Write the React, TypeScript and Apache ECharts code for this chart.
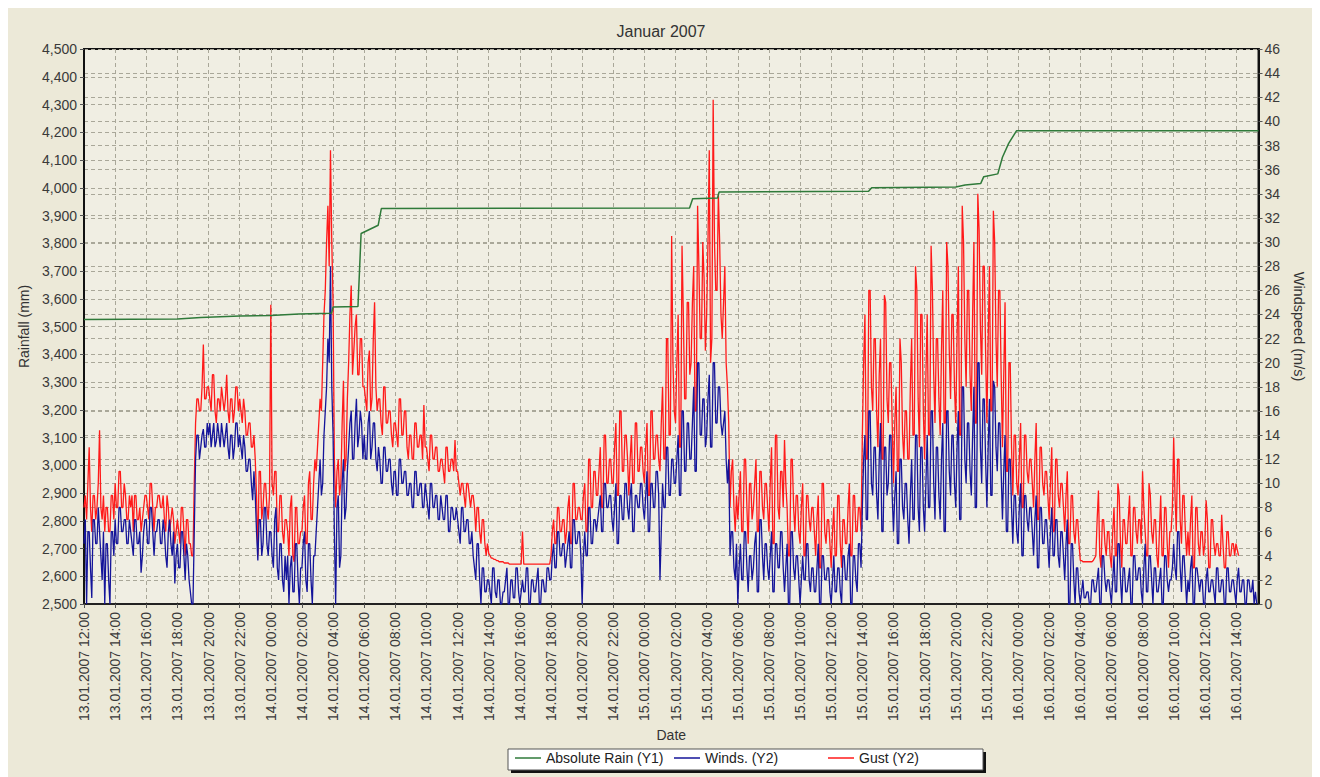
import React, { useEffect, useRef } from "react";
import * as echarts from "echarts";

const TITLE = "Januar 2007";
const X_NAME = "Date";
const Y1_NAME = "Rainfall (mm)";
const Y2_NAME = "Windspeed (m/s)";
const SERIES_NAMES = ["Absolute Rain (Y1)", "Winds. (Y2)", "Gust (Y2)"];

// hours counted from 13.01.2007 00:00
const X_MIN = 12;
const X_MAX = 87.45;
const X_STEP = 2;

// absolute rain (Y1), step-like curve: hour, mm
const RAIN_HOURS = [12, 18, 19.5, 22, 24, 25.8, 27.9, 28.0, 29.6, 29.8, 30.9, 31.1, 50.9, 51.1, 52.7, 52.8, 62.4, 62.6, 68.0, 68.6, 69.6, 69.8, 70.7, 71.0, 71.4, 71.9, 87.45];
const RAIN_MM = [3525, 3527, 3532, 3538, 3540, 3545, 3548, 3570, 3572, 3835, 3865, 3925, 3927, 3960, 3963, 3985, 3987, 4000, 4003, 4010, 4015, 4040, 4050, 4110, 4160, 4205, 4205];

// 5-minute samples starting 13.01.2007 12:00 (m/s), one row per hour
const SAMPLE_START = 12;
const SAMPLES_PER_HOUR = 12;
const WIND = [
  5, 7, 0, 6, 6, 3, 0.5, 7, 7, 5, 5, 8, // 12
  6, 4, 2, 6, 0, 5, 5, 2, 0, 6, 6, 4, // 13
  7, 5, 5, 8, 8, 6, 6, 7, 7, 5, 5, 7, // 14
  6, 5, 4, 7, 7, 5, 5, 6, 2.6, 4, 6, 7, // 15
  7, 5, 5, 8, 8, 6, 4, 6, 6, 7, 7, 5, // 16
  5, 7, 6, 4, 3, 6, 7, 5, 4, 6, 1.7, 4, // 17
  5, 3, 3, 6, 6, 4, 2, 5, 4, 2, 1, 0, // 18
  0, 6, 12, 14, 14, 12, 13, 14, 14.5, 13, 13, 15, // 19
  14, 15, 13, 14, 15, 13, 13.5, 15, 14, 13, 15, 14, // 20
  13, 14, 15, 13, 12, 14, 14, 12, 13, 15, 15, 13, // 21
  14, 13, 12, 14, 13, 11, 11, 12, 12, 10, 8.6, 11, // 22
  9, 6, 3.6, 7, 7, 4, 5, 8, 8, 5, 4, 6, // 23
  6, 4, 3, 7, 8, 3, 2, 5, 5, 2, 1, 4, // 24
  2, 4, 0, 3, 4, 1, 1, 5, 5, 2, 0, 3, // 25
  3, 5, 6, 2, 1, 5, 5, 2, 0, 4, 4, 6, // 26
  8, 10, 12, 9, 10, 14, 16, 18, 22, 20, 28, 18, // 27
  14, 6, 0, 8, 9, 3, 4, 10, 12, 7, 8, 11, // 28
  13, 15, 16, 12, 12, 15, 17, 13, 14, 16, 15, 12, // 29
  14, 12, 12, 15, 16, 12, 13, 15, 15, 12, 11, 13, // 30
  12, 10, 10, 13, 13, 11, 11, 12, 12, 10, 9, 11, // 31
  11, 9, 9, 12, 12, 10, 10, 11, 11, 9, 9, 10, // 32
  10, 8, 8, 11, 11, 9, 9, 10, 10, 8, 8, 10, // 33
  9, 8, 7, 10, 10, 8, 8, 9, 9, 7, 7, 9, // 34
  8, 7, 7, 9, 9, 6, 6, 8, 8, 7, 7, 8, // 35
  7, 6, 5, 8, 8, 6, 6, 7, 7, 5, 5, 6, // 36
  4, 3, 2, 5, 5, 2, 0, 3, 3, 1, 1, 2, // 37
  2, 1, 0, 3, 3, 1, 0.5, 2, 2, 0, 0, 1, // 38
  1, 2, 3, 0, 0, 2, 2, 0.5, 0.5, 3, 3, 1, // 39
  0, 1, 2, 1, 1, 3, 3, 0, 0, 2, 2, 1, // 40
  1, 2, 3, 0, 0, 2, 2, 1, 1, 3, 3, 2, // 41
  2, 4, 5, 3, 3, 6, 6, 4, 4, 5, 5, 3, // 42
  4, 5, 6, 3, 3, 7, 7, 5, 5, 6, 6, 4, // 43
  0, 4, 6, 4, 4, 8, 8, 5, 5, 7, 7, 6, // 44
  7, 8, 9, 6, 6, 10, 10, 8, 8, 9, 9, 7, // 45
  6, 8, 10, 5, 5, 9, 9, 7, 7, 10, 10, 8, // 46
  7, 9, 10, 6, 6, 9, 9, 8, 8, 10, 10, 8, // 47
  7, 9, 11, 6, 6, 10, 10, 8, 8, 11, 11, 9, // 48
  2, 6, 10, 8, 8, 13, 13, 9, 9, 12, 12, 10, // 49
  10, 12, 14, 9, 9, 16, 16, 11, 11, 15, 15, 12, // 50
  12, 15, 18, 11, 11, 20, 20, 14, 14, 17, 17, 13, // 51
  14, 17, 19, 13, 13, 20, 20, 15, 15, 18, 18, 15, // 52
  14, 15, 16, 12, 10, 12, 4, 6, 6, 3, 2, 5, // 53
  0, 3, 5, 2, 2, 6, 6, 3, 1, 4, 4, 2, // 54
  3, 5, 6, 1, 1, 7, 7, 4, 2, 5, 5, 3, // 55
  2, 4, 6, 1, 1, 5, 5, 3, 3, 6, 6, 3, // 56
  1, 3, 5, 0, 0, 6, 6, 3, 2, 4, 4, 2, // 57
  0, 2, 4, 2, 2, 5, 5, 2, 1, 3, 3, 1, // 58
  1, 3, 5, 0, 0, 4, 4, 2, 2, 3, 3, 1, // 59
  0, 2, 4, 1, 1, 3, 3, 1, 0, 4, 4, 2, // 60
  2, 4, 5, 0, 0, 4, 4, 2, 1, 5, 5, 3, // 61
  8, 12, 14, 7, 7, 16, 16, 10, 9, 13, 13, 9, // 62
  7, 12, 15, 6, 6, 13, 13, 9, 10, 14, 14, 9, // 63
  6, 9, 11, 5, 5, 12, 12, 8, 7, 10, 10, 7, // 64
  5, 9, 12, 7, 7, 14, 14, 8, 6, 13, 13, 8, // 65
  6, 10, 14, 8, 8, 16, 16, 10, 7, 13, 13, 9, // 66
  7, 12, 15, 6, 6, 16, 16, 11, 9, 14, 14, 10, // 67
  8, 13, 16, 7, 7, 18, 18, 12, 10, 15, 15, 11, // 68
  9, 14, 18, 8, 8, 20, 20, 13, 10, 17, 17, 12, // 69
  8, 13, 17, 9, 9, 18.5, 18, 13, 11, 15, 15, 11, // 70
  7, 11, 14, 6, 6, 12, 12, 8, 5, 9, 9, 6, // 71
  5, 8, 10, 4, 4, 9, 9, 7, 6, 8, 8, 6, // 72
  4, 7, 9, 3, 3, 8, 8, 5, 5, 7, 7, 5, // 73
  3, 6, 8, 4, 4, 7, 7, 4, 3, 6, 6, 4, // 74
  2, 5, 7, 0, 0, 5, 5, 2, 0, 3, 3, 1, // 75
  0, 1, 2, 0.5, 0.5, 1, 1, 0, 0, 2, 2, 1, // 76
  1, 2, 3, 0, 0, 4, 4, 2, 1, 2, 2, 1, // 77
  0, 2, 4, 1, 1, 5, 5, 2, 0, 3, 3, 1, // 78
  1, 2, 3, 0, 0, 4, 4, 2, 2, 3, 3, 1, // 79
  0, 3, 5, 1, 1, 4, 4, 2, 0, 3, 3, 1, // 80
  1, 2, 3, 0, 0, 4, 4, 2, 1, 2, 2, 3, // 81
  5, 3, 2, 6, 6, 3, 1, 4, 4, 2, 0, 2, // 82
  1, 3, 4, 0, 0, 3, 3, 2, 1, 2, 2, 0, // 83
  0, 2, 3, 1, 1, 2, 2, 1, 0, 3, 3, 1, // 84
  1, 2, 2, 0, 0, 3, 3, 1, 1, 2, 2, 1, // 85
  0, 2, 3, 1, 1, 2, 2, 0, 0, 2, 2, 1, // 86
  1, 2, 0, 1, 0, // 87
];
const GUST = [
  8, 9, 7, 10, 13, 8, 6, 9, 9, 7, 8, 10, // 12
  14.4, 8, 7, 9, 6, 8, 8, 6, 6, 9, 9, 7, // 13
  10, 8, 8, 11, 11, 8, 8, 10, 9, 7, 7, 9, // 14
  8, 9, 6, 9, 9, 7, 7, 8, 6, 7, 8, 9, // 15
  9, 8, 7, 10, 10, 8, 6, 8, 8, 9, 9, 8, // 16
  8, 9, 7, 6, 9, 8, 6, 7, 8, 7, 5, 6, // 17
  7, 6, 5, 8, 8, 6, 4, 7, 7, 5, 5, 4, // 18
  4, 10, 15, 17, 17, 16, 16, 18, 21.5, 17, 17, 18, // 19
  18, 17, 16, 19, 19, 16, 15, 17, 17, 16, 18, 17, // 20
  16, 17, 19, 16, 15, 17, 17, 15, 16, 18, 18, 16, // 21
  17, 16, 15, 17, 16, 14, 14, 15, 15, 13, 13, 14, // 22
  12, 9, 4, 11, 11, 7, 8, 10, 10, 8, 7, 9, // 23
  24.8, 10, 9, 11, 11, 6, 6, 9, 9, 6, 5, 7, // 24
  7, 6, 4, 8, 9, 4, 3.5, 8, 8, 5, 5, 6, // 25
  6, 8, 9, 5, 5, 10, 11, 7, 7, 10, 12, 11, // 26
  13, 15, 17, 16, 20, 24, 26, 30, 33, 28, 37.6, 30, // 27
  25, 12, 8, 11, 12, 9, 10, 15, 18.5, 11, 12, 17, // 28
  20, 24, 26.4, 19, 21, 23, 24, 19, 19, 22, 22, 18, // 29
  18, 17, 16, 20, 21, 16, 17, 22, 25, 18, 16, 17, // 30
  17, 15, 14, 18, 18, 15, 15, 16, 16, 14, 13, 15, // 31
  15, 14, 13, 17, 17, 14, 14, 16, 16, 13, 12, 14, // 32
  14, 12, 12, 15, 15, 13, 13, 14, 14, 12, 16.5, 13, // 33
  13, 12, 11, 14, 14, 12, 12, 13, 13, 11, 11, 12, // 34
  12, 11, 10, 13, 13, 11, 11, 12, 12, 11, 13.6, 11, // 35
  11, 10, 9, 10, 10, 9, 8, 10, 10, 9, 8, 9, // 36
  9, 8, 6, 8, 8, 6, 5, 7, 7, 5, 4, 5, // 37
  4.2, 4, 3.8, 3.8, 3.7, 3.7, 3.6, 3.6, 3.5, 3.5, 3.5, 3.5, // 38
  3.4, 3.4, 3.4, 3.4, 3.3, 3.3, 3.3, 3.3, 3.3, 3.3, 3.3, 3.3, // 39
  3.3, 3.3, 6, 3.3, 3.3, 3.3, 3.3, 3.3, 3.3, 3.3, 3.3, 3.3, // 40
  3.3, 3.3, 3.3, 3.3, 3.3, 3.3, 3.3, 3.3, 3.3, 3.3, 3.3, 3.3, // 41
  4, 6, 7, 5, 5, 8, 8, 6, 6, 7, 7, 5, // 42
  6, 8, 9, 5, 5, 10, 10, 7, 7, 8, 8, 7, // 43
  7, 9, 10, 6, 6, 12, 12, 8, 8, 11, 11, 9, // 44
  9, 11, 13, 8, 8, 14, 14, 10, 10, 12, 12, 10, // 45
  10, 13, 15, 9, 9, 16, 16, 11, 11, 14, 14, 12, // 46
  9, 12, 14, 10, 10, 15, 15, 11, 11, 13, 13, 11, // 47
  10, 13, 15, 9, 9, 16, 16, 12, 12, 14, 14, 12, // 48
  11, 15, 18, 12, 12, 22, 22, 14, 14, 30.5, 20, 16, // 49
  15, 20, 24, 13, 13, 29.7, 24, 17, 17, 25, 25, 19, // 50
  20, 25, 28, 16, 16, 33, 28, 22, 22, 30, 27, 21, // 51
  24, 30, 37.6, 20, 22, 41.8, 30, 26, 26, 34, 30, 24, // 52
  22, 25, 28, 20, 18, 15, 8, 11, 12, 8, 6, 9, // 53
  7, 9, 11, 6, 6, 12, 12, 8, 5, 10, 10, 7, // 54
  8, 10, 12, 6, 6, 11, 11, 8, 7, 10, 10, 8, // 55
  6, 10, 13, 5, 5, 14, 14, 8, 7, 11, 11, 8, // 56
  13.6, 10, 8, 4, 4, 12, 12, 8, 6, 9, 9, 6, // 57
  5, 8, 10, 4, 4, 9, 9, 7, 6, 8, 8, 6, // 58
  4, 7, 9, 3, 3, 10, 10, 6, 5, 7, 7, 5, // 59
  3, 6, 8, 4, 4, 9, 9, 5, 3, 7, 7, 5, // 60
  5, 8, 10, 4, 4, 9, 9, 6, 6, 8, 8, 6, // 61
  14, 20, 24, 12, 12, 26, 26, 18, 16, 22, 22, 16, // 62
  13, 19, 22, 12, 12, 25.6, 25, 17, 15, 20, 20, 15, // 63
  10, 15, 18, 11, 11, 22, 20, 14, 12, 16, 16, 12, // 64
  12, 18, 22, 14, 14, 28, 26, 17, 13, 24, 24, 16, // 65
  12, 19, 24, 14, 14, 29.7, 26, 19, 15, 22, 22, 17, // 66
  14, 21, 26, 15, 15, 30, 28, 21, 17, 24, 24, 18, // 67
  15, 22, 28, 14, 14, 33, 30, 22, 18, 26, 26, 19, // 68
  16, 24, 30, 15, 15, 34, 31, 23, 19, 28, 28, 21, // 69
  15, 22, 28, 16, 16, 32.6, 30, 22, 18, 26, 26, 19, // 70
  13, 19, 25, 11, 11, 20, 20, 13, 9, 14, 14, 10, // 71
  9, 12, 15, 8, 8, 14, 14, 11, 10, 12, 12, 10, // 72
  8, 12, 15, 7, 7, 13, 13, 10, 9, 11, 11, 9, // 73
  7, 10, 13, 6, 6, 12, 12, 9, 8, 10, 10, 8, // 74
  6, 9, 11, 5, 5, 9, 9, 6, 5, 7, 7, 5, // 75
  3.6, 3.6, 3.5, 3.5, 3.5, 3.5, 3.5, 3.5, 3.5, 3.5, 3.6, 3.8, // 76
  4, 7, 9.4, 4, 3, 7, 7, 5, 4, 6, 6, 4, // 77
  3, 6, 8, 4, 4, 10, 9, 5, 3, 7, 7, 5, // 78
  5, 7, 9, 4, 4, 8, 8, 6, 5, 7, 7, 5, // 79
  11, 8, 6, 4, 4, 10, 9, 6, 5, 7, 7, 4, // 80
  3, 6, 9, 4, 4, 8, 8, 5, 3, 6, 6, 8, // 81
  13.8, 9, 6, 12, 12, 7, 5, 9, 9, 6, 4, 6, // 82
  4, 7, 9, 3, 3, 8, 8, 5, 4, 6, 6, 4, // 83
  5, 8.6, 7, 3, 3, 7, 7, 5, 4, 5, 5, 4, // 84
  4, 7.4, 5, 3, 3, 6, 6, 4, 4, 5, 5, 4, // 85
  5, 4.5, 4, // 86
];

const Y1_MIN = 2500;
const Y1_MAX = 4500;
const Y1_STEP = 100;
const Y2_MIN = 0;
const Y2_MAX = 46;
const Y2_STEP = 2;

const COLORS = ["#2f7a3a", "#14149a", "#ff1a1a"];

const toPairs = (vals: number[]) =>
  vals.map((v, i) => [SAMPLE_START + i / SAMPLES_PER_HOUR, v]);

export default function App() {
  const ref = useRef<HTMLDivElement>(null);
  useEffect(() => {
    document.documentElement.style.overflow = "hidden";
    document.body.style.overflow = "hidden";
    const chart = echarts.init(ref.current!, null, { renderer: "svg" });
    const font = "'Liberation Sans', Arial, sans-serif";
    const txt = "#333333";
    const dash = { type: [4, 3] as number[], color: "#a9a799", width: 1 };
    const fmtDate = (h: number) => {
      const d = 13 + Math.floor(h / 24);
      const hh = Math.round(h % 24);
      return `${d}.01.2007 ${String(hh).padStart(2, "0")}:00`;
    };
    const legendBase = {
      top: 743,
      padding: 0,
      icon: "rect",
      itemWidth: 26,
      itemHeight: 1.5,
      selectedMode: false,
      textStyle: { fontFamily: font, fontSize: 14, color: "#222" },
    };
    chart.setOption({
      animation: false,
      backgroundColor: "#ECE9D8",
      title: {
        text: TITLE,
        left: "center",
        top: 10,
        textStyle: { fontFamily: font, fontSize: 16, fontWeight: "normal", color: txt },
      },
      graphic: [
        { type: "rect", z: 0, shape: { x: 503, y: 744, width: 475, height: 21 }, style: { fill: "#111" } },
        { type: "rect", z: 1, shape: { x: 500, y: 741, width: 475, height: 21 }, style: { fill: "#fff", stroke: "#555", lineWidth: 1 } },
      ],
      legend: [
        { ...legendBase, left: 507, data: [SERIES_NAMES[0]] },
        { ...legendBase, left: 666, data: [SERIES_NAMES[1]] },
        { ...legendBase, left: 820, data: [SERIES_NAMES[2]] },
      ],
      grid: {
        left: 76,
        top: 41,
        width: 1178,
        height: 555,
        show: true,
        backgroundColor: "#F0EEE3",
        borderColor: "#111",
        borderWidth: 2,
      },
      xAxis: {
        type: "value",
        min: X_MIN,
        max: X_MAX,
        interval: X_STEP,
        name: X_NAME,
        nameLocation: "middle",
        nameGap: 124,
        nameMoveOverlap: false,
        nameTextStyle: { fontFamily: font, fontSize: 14, color: txt },
        axisLine: { show: true, lineStyle: { color: "#222", width: 2 } },
        axisTick: { show: true, length: 4, lineStyle: { color: "#555" } },
        axisLabel: {
          rotate: 90,
          margin: 8,
          showMaxLabel: false,
          fontFamily: font,
          fontSize: 14,
          color: "#3a3a3a",
          formatter: (v: number) => fmtDate(v),
        },
        splitLine: { show: true, lineStyle: dash },
      },
      yAxis: [
        {
          type: "value",
          position: "left",
          min: Y1_MIN,
          max: Y1_MAX,
          interval: Y1_STEP,
          name: Y1_NAME,
          nameLocation: "middle",
          nameGap: 49,
          nameTextStyle: { fontFamily: font, fontSize: 14, color: txt },
          axisLine: { show: true, lineStyle: { color: "#111", width: 2 } },
          axisTick: { show: true, length: 4, lineStyle: { color: "#555" } },
          axisLabel: {
            fontFamily: font,
            fontSize: 14,
            color: "#3a3a3a",
            margin: 7,
            formatter: (v: number) => v.toLocaleString("en-US"),
          },
          splitLine: { show: true, lineStyle: dash },
        },
        {
          type: "value",
          position: "right",
          min: Y2_MIN,
          max: Y2_MAX,
          interval: Y2_STEP,
          name: Y2_NAME,
          nameLocation: "middle",
          nameRotate: -90,
          nameGap: 27,
          nameTextStyle: { fontFamily: font, fontSize: 14.5, color: txt },
          axisLine: { show: true, lineStyle: { color: "#111", width: 2 } },
          axisTick: { show: true, length: 4, lineStyle: { color: "#555" } },
          axisLabel: { fontFamily: font, fontSize: 14, color: "#3a3a3a", margin: 6 },
          splitLine: { show: true, lineStyle: dash },
        },
      ],
      series: [
        {
          name: SERIES_NAMES[0],
          type: "line",
          yAxisIndex: 0,
          z: 5,
          showSymbol: false,
          symbol: "none",
          data: RAIN_HOURS.map((h, i) => [h, RAIN_MM[i]]),
          lineStyle: { color: COLORS[0], width: 1.5 },
          itemStyle: { color: COLORS[0] },
        },
        {
          name: SERIES_NAMES[1],
          type: "line",
          yAxisIndex: 1,
          z: 4,
          showSymbol: false,
          symbol: "none",
          data: toPairs(WIND),
          lineStyle: { color: COLORS[1], width: 1.3 },
          itemStyle: { color: COLORS[1] },
        },
        {
          name: SERIES_NAMES[2],
          type: "line",
          yAxisIndex: 1,
          z: 3,
          showSymbol: false,
          symbol: "none",
          data: toPairs(GUST),
          lineStyle: { color: COLORS[2], width: 1.3 },
          itemStyle: { color: COLORS[2] },
        },
      ],
    });
    return () => chart.dispose();
  }, []);
  return <div ref={ref} style={{ width: 1306, height: 769 }} />;
}
